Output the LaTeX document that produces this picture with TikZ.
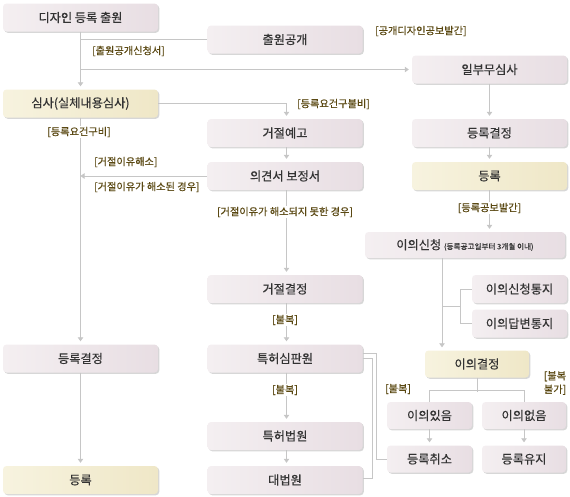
\documentclass[tikz,border=0pt]{standalone}
\usepackage{fontspec}
\setmainfont{Noto Sans CJK KR}
\newfontfamily\heavyfont{Noto Sans CJK KR}[FakeBold=0.5]
\usetikzlibrary{arrows.meta,shadows}
\definecolor{lbl}{HTML}{5A4812}
\definecolor{lc}{HTML}{C6C6C6}
\definecolor{txt}{HTML}{333333}
\definecolor{pinkL}{HTML}{F4EFF1}
\definecolor{pinkR}{HTML}{E8DEE3}
\definecolor{yelL}{HTML}{F7F3DF}
\definecolor{yelR}{HTML}{EFE7C7}
\tikzset{
  basebox/.style={rounded corners=3.5pt, minimum height=28pt, inner sep=0pt,
    text=txt, font=\heavyfont\fontsize{12.2}{14}\selectfont,
    drop shadow={shadow xshift=1.3pt, shadow yshift=-1.3pt, opacity=0.45, fill=gray!70}},
  pbox/.style={basebox, left color=pinkL, right color=pinkR, minimum width=155pt},
  ybox/.style={basebox, left color=yelL, right color=yelR, minimum width=155pt},
  lab/.style={text=lbl, font=\heavyfont\fontsize{10.2}{13.5}\selectfont, inner sep=1pt},
  ln/.style={draw=lc, line width=0.8pt},
  arr/.style={ln, -{Triangle[width=5.5pt,length=4pt]}, shorten >=3pt},
}
\begin{document}
\begin{tikzpicture}[x=1pt,y=-1pt]
\useasboundingbox (0,0) rectangle (570,496);
% left column
\node[pbox] (apply) at (80.5,17.5) {디자인 등록 출원};
\node[ybox] (sim) at (80.5,103.5) {심사(실체내용심사)};
\node[pbox] (dec2) at (80.5,358.5) {등록결정};
\node[ybox] (reg2) at (80.5,480) {등록};
% middle column
\node[pbox] (pub) at (285,39.5) {출원공개};
\node[pbox] (rej) at (285,133) {거절예고};
\node[pbox] (op) at (285,176) {의견서 보정서};
\node[pbox] (rejd) at (285,289) {거절결정};
\node[pbox] (trial) at (285,358.5) {특허심판원};
\node[pbox] (pc) at (285,436) {특허법원};
\node[pbox] (sc) at (285,480) {대법원};
% right column
\node[pbox] (part) at (489.5,69.5) {일부무심사};
\node[pbox] (dec1) at (489.5,133) {등록결정};
\node[ybox] (reg1) at (489.5,176) {등록};
\node[pbox, minimum width=200pt, minimum height=26pt] (obj) at (465,245) {이의신청 {\fontsize{7.6}{9}\selectfont (등록공고일부터 3개월 이내)}};
\node[pbox, minimum width=95pt] (n1) at (519.5,289) {이의신청통지};
\node[pbox, minimum width=95pt] (n2) at (519.5,323.5) {이의답변통지};
\node[ybox, minimum width=104pt, minimum height=27pt] (od) at (477,364) {이의결정};
\node[pbox, minimum width=85pt, minimum height=27pt] (yes) at (429.5,415.5) {이의있음};
\node[pbox, minimum width=84pt, minimum height=27pt] (no) at (524,415.5) {이의없음};
\node[pbox, minimum width=85pt, minimum height=27pt] (cancel) at (429.5,459) {등록취소};
\node[pbox, minimum width=84pt, minimum height=27pt] (keep) at (524,459) {등록유지};

% connectors
\draw[arr] (apply.south) -- (sim.north);
\draw[ln] (pub.west) -- (pub.west -| apply.south);
\draw[arr] (apply.south |- part.west) -- (part.west);
\draw[arr] (sim.east) -| ([xshift=1.5pt]rej.north);
\draw[arr] (sim.south) -- (dec2.north);
\draw[arr] (dec2.south) -- (reg2.north);
\draw[arr] ([xshift=1.5pt]rej.south) -- ([xshift=1.5pt]op.north);
\draw[arr, shorten >=0pt] (op.west) -- (op.west -| sim.south);
\draw[arr] ([xshift=1.5pt]op.south) -- ([xshift=1.5pt]rejd.north);
\draw[arr] ([xshift=1.5pt]rejd.south) -- ([xshift=1.5pt]trial.north);
\draw[arr] ([xshift=1.5pt]trial.south) -- ([xshift=1.5pt]pc.north);
\draw[arr] ([xshift=1.5pt]pc.south) -- ([xshift=1.5pt]sc.north);
\draw[arr] (part.south) -- (dec1.north);
\draw[arr] (dec1.south) -- (reg1.north);
\draw[arr] (reg1.south) -- (reg1.south |- obj.north);
\coordinate (ob) at ([xshift=-23pt]obj.south);
\draw[arr] (ob) -- (ob |- od.north);
\coordinate (bj) at (460,306);
\draw[ln] (ob |- bj) -- (bj);
\draw[ln] (n1.west) -- (n1.west -| bj) -- (n2.west -| bj) -- (n2.west);
\draw[ln] (od.south) -- ++(0,14);
\draw[ln] (yes.north) -- ++(0,-11) -| (no.north);
\draw[arr] (yes.south) -- (cancel.north);
\draw[arr] (no.south) -- (keep.north);
\draw[ln] ([yshift=5pt]trial.east) -- ++(14,0) |- (cancel.west);
\draw[ln] (trial.east) -- ++(9.5,0) |- ([yshift=2pt]sc.east);

% labels
\node[lab, anchor=west] (l1) at (91,51) {[출원공개신청서]};
\node[lab, anchor=west] (l2) at (374,31) {[공개디자인공보발간]};
\node[lab, anchor=west] (l3) at (296,104) {[등록요건구불비]};
\node[lab, fill=white] (l4) at (79,132) {[등록요건구비]};
\node[lab, anchor=west] (l5) at (93,162) {[거절이유해소]};
\node[lab, anchor=west] (l6) at (93,187) {[거절이유가 해소된 경우]};
\node[lab, fill=white] (l7) at (285,212) {[거절이유가 해소되지 못한 경우]};
\node[lab, fill=white] (l8) at (489.5,208) {[등록공보발간]};
\node[lab, fill=white] (l9) at (285,320) {[불복]};
\node[lab, fill=white] (l10) at (285,390) {[불복]};
\node[lab, anchor=west] (l11) at (384,389) {[불복]};
\node[lab, align=center] (l12) at (555,383) {[불복\\불가]};
\end{tikzpicture}
\end{document}
